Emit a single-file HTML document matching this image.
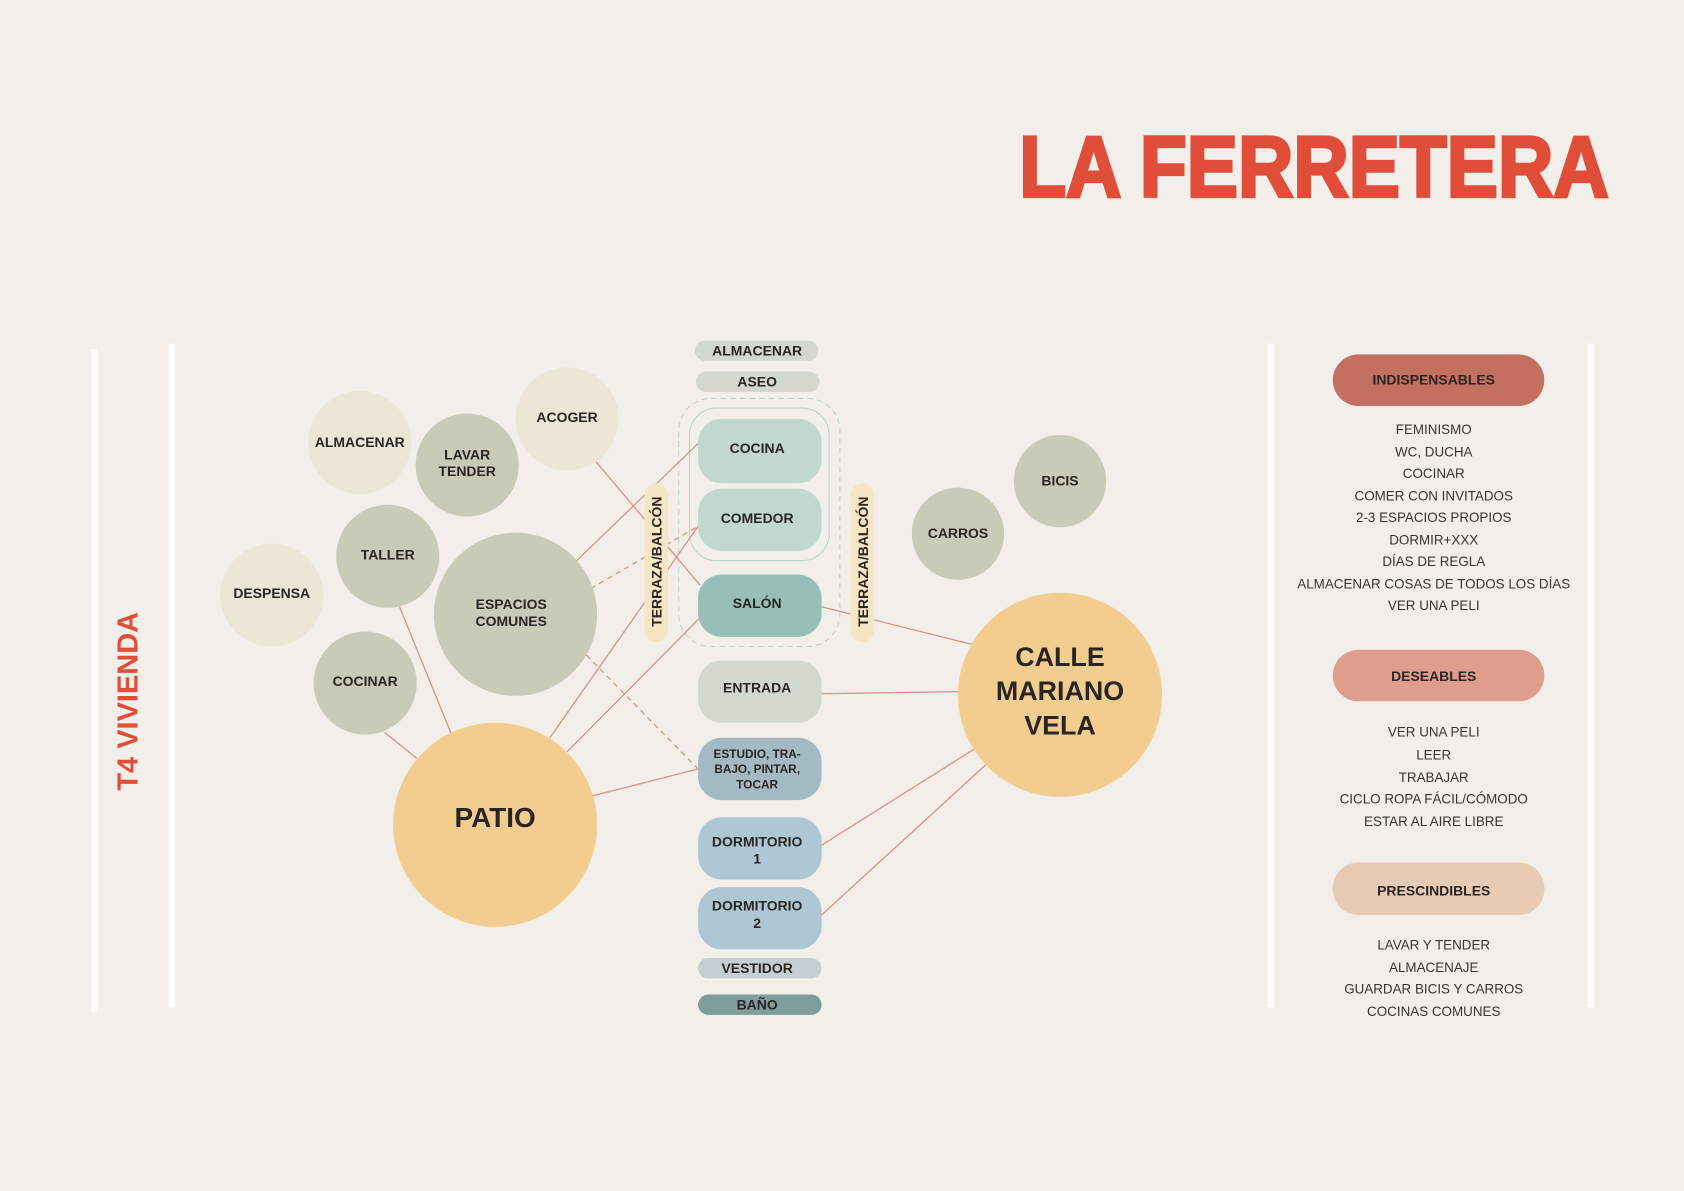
<!DOCTYPE html>
<html><head><meta charset="utf-8"><style>
html,body{margin:0;padding:0;background:#f2efea;}
svg{display:block}
text{font-family:"Liberation Sans",sans-serif;}
.b{font-weight:900;fill:#2a2422;text-anchor:middle;}
.l{fill:#3a3330;font-size:12.5px;text-anchor:middle;}
</style></head><body>
<svg width="1684" height="1191" viewBox="0 0 1568 1109" xmlns="http://www.w3.org/2000/svg">
<rect width="1568" height="1109" fill="#f2efea"/>
<text x="949" y="183" font-size="80" font-weight="900" fill="#e04e3a" stroke="#e04e3a" stroke-width="3" textLength="549" lengthAdjust="spacingAndGlyphs" style="font-family:'Liberation Sans',sans-serif;font-weight:900">LA FERRETERA</text>
<!-- bars -->
<rect x="85" y="325" width="6" height="617" fill="#fff"/>
<rect x="157" y="320" width="6" height="618" fill="#fff"/>
<rect x="1180" y="320" width="6" height="618" fill="#fff"/>
<rect x="1478" y="320" width="6" height="618" fill="#fff"/>
<text transform="translate(128,653) rotate(-90)" text-anchor="middle" font-size="27" font-weight="700" fill="#e04e3a">T4 VIVIENDA</text>
<!-- center containers -->
<rect x="632" y="371" width="150" height="231" rx="30" fill="none" stroke="#b9d6cc" stroke-dasharray="5,4"/>
<rect x="642" y="380" width="130" height="142" rx="25" fill="none" stroke="#b9d6cc"/>
<!-- lines -->
<g stroke="#e0907f" stroke-width="1.2" fill="none">
<line x1="555" y1="430" x2="652" y2="545"/>
<line x1="537" y1="522" x2="650" y2="413"/>
<line x1="550" y1="548" x2="650" y2="490" stroke-dasharray="5,4"/>
<line x1="546" y1="610" x2="650" y2="716" stroke-dasharray="5,4"/>
<line x1="372" y1="565" x2="420" y2="683"/>
<line x1="358" y1="682" x2="388" y2="706"/>
<line x1="512" y1="687" x2="650" y2="490"/>
<line x1="528" y1="700" x2="652" y2="575"/>
<line x1="552" y1="741" x2="650" y2="716"/>
<line x1="765" y1="565" x2="905" y2="600"/>
<line x1="765" y1="646" x2="892" y2="644"/>
<line x1="765" y1="787" x2="908" y2="697"/>
<line x1="765" y1="852" x2="918" y2="712"/>
</g>
<!-- circles -->
<circle cx="335" cy="412" r="48" fill="#ebe6d6"/>
<circle cx="435" cy="433" r="48" fill="#c9cbb9"/>
<circle cx="528" cy="390" r="48" fill="#ebe6d6"/>
<circle cx="361" cy="518" r="48" fill="#c9cbb9"/>
<circle cx="253" cy="554" r="48" fill="#ebe6d6"/>
<circle cx="480" cy="572" r="76" fill="#c9cbb9"/>
<circle cx="340" cy="636" r="48" fill="#c9cbb9"/>
<circle cx="461" cy="768" r="95" fill="#f3cd8f"/>
<circle cx="892" cy="497" r="43" fill="#c9cbb9"/>
<circle cx="987" cy="448" r="43" fill="#c9cbb9"/>
<circle cx="987" cy="647" r="95" fill="#f3cd8f"/>
<g font-size="13">
<text class="b" x="335" y="416">ALMACENAR</text>
<text class="b" x="435" y="428">LAVAR</text><text class="b" x="435" y="443">TENDER</text>
<text class="b" x="528" y="393">ACOGER</text>
<text class="b" x="361" y="521">TALLER</text>
<text class="b" x="253" y="557">DESPENSA</text>
<text class="b" x="476" y="567">ESPACIOS</text><text class="b" x="476" y="583">COMUNES</text>
<text class="b" x="340" y="639">COCINAR</text>
<text class="b" x="892" y="501">CARROS</text>
<text class="b" x="987" y="452">BICIS</text>
</g>
<text class="b" x="461" y="770" font-size="26">PATIO</text>
<g font-size="25"><text class="b" x="987" y="620">CALLE</text><text class="b" x="987" y="652">MARIANO</text><text class="b" x="987" y="684">VELA</text></g>
<!-- pills -->
<rect x="647" y="317" width="115" height="19" rx="9.5" fill="#d3d8cf"/>
<rect x="648" y="346" width="115" height="19" rx="9.5" fill="#d3d8cf"/>
<rect x="650" y="390" width="115" height="60" rx="22" fill="#c1d8ce"/>
<rect x="650" y="455" width="115" height="58" rx="22" fill="#c1d8ce"/>
<rect x="650" y="535" width="115" height="58" rx="22" fill="#96c0b6"/>
<rect x="650" y="615" width="115" height="58" rx="22" fill="#d3d8cf"/>
<rect x="650" y="687" width="115" height="58" rx="22" fill="#a3bac4"/>
<rect x="650" y="761" width="115" height="58" rx="22" fill="#adc8d4"/>
<rect x="650" y="826" width="115" height="58" rx="22" fill="#adc8d4"/>
<rect x="650" y="892" width="115" height="19" rx="9.5" fill="#c5cfd3"/>
<rect x="650" y="926" width="115" height="19" rx="9.5" fill="#7f9e9b"/>
<rect x="600" y="450" width="22" height="148" rx="11" fill="#f6e6c5"/>
<rect x="792" y="450" width="22" height="148" rx="11" fill="#f6e6c5"/>
<g font-size="13">
<text class="b" x="705" y="331">ALMACENAR</text>
<text class="b" x="705" y="360">ASEO</text>
<text class="b" x="705" y="422">COCINA</text>
<text class="b" x="705" y="487">COMEDOR</text>
<text class="b" x="705" y="566">SALÓN</text>
<text class="b" x="705" y="645">ENTRADA</text>
<text class="b" x="705" y="788">DORMITORIO</text><text class="b" x="705" y="804">1</text>
<text class="b" x="705" y="848">DORMITORIO</text><text class="b" x="705" y="864">2</text>
<text class="b" x="705" y="906">VESTIDOR</text>
<text class="b" x="705" y="940">BAÑO</text>
<text class="b" transform="translate(616,523) rotate(-90)">TERRAZA/BALCÓN</text>
<text class="b" transform="translate(808,523) rotate(-90)">TERRAZA/BALCÓN</text>
</g>
<g font-size="11"><text class="b" x="705" y="706">ESTUDIO, TRA-</text><text class="b" x="705" y="720">BAJO, PINTAR,</text><text class="b" x="705" y="734">TOCAR</text></g>
<!-- legend -->
<rect x="1241" y="330" width="197" height="48" rx="24" fill="#c47061"/>
<rect x="1241" y="605" width="197" height="48" rx="24" fill="#e09d8c"/>
<rect x="1241" y="803" width="197" height="49" rx="24" fill="#e8cbb4"/>
<g font-size="13"><text class="b" x="1335" y="358">INDISPENSABLES</text>
<text class="b" x="1335" y="634">DESEABLES</text>
<text class="b" x="1335" y="834">PRESCINDIBLES</text></g>
<text class="l" x="1335" y="404">FEMINISMO</text>
<text class="l" x="1335" y="425">WC, DUCHA</text>
<text class="l" x="1335" y="445">COCINAR</text>
<text class="l" x="1335" y="466">COMER CON INVITADOS</text>
<text class="l" x="1335" y="486">2-3 ESPACIOS PROPIOS</text>
<text class="l" x="1335" y="507">DORMIR+XXX</text>
<text class="l" x="1335" y="527">DÍAS DE REGLA</text>
<text class="l" x="1335" y="548">ALMACENAR COSAS DE TODOS LOS DÍAS</text>
<text class="l" x="1335" y="568">VER UNA PELI</text>
<text class="l" x="1335" y="686">VER UNA PELI</text>
<text class="l" x="1335" y="707">LEER</text>
<text class="l" x="1335" y="728">TRABAJAR</text>
<text class="l" x="1335" y="748">CICLO ROPA FÁCIL/CÓMODO</text>
<text class="l" x="1335" y="769">ESTAR AL AIRE LIBRE</text>
<text class="l" x="1335" y="884">LAVAR Y TENDER</text>
<text class="l" x="1335" y="905">ALMACENAJE</text>
<text class="l" x="1335" y="925">GUARDAR BICIS Y CARROS</text>
<text class="l" x="1335" y="946">COCINAS COMUNES</text>
</svg>
</body></html>
